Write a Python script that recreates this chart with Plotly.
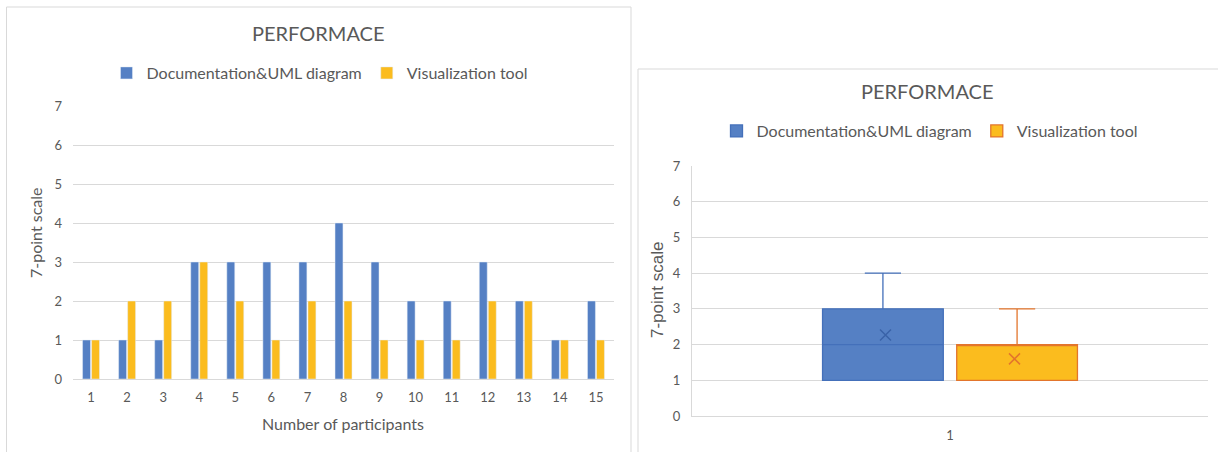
import numpy as np
import plotly.graph_objects as go

participants = [str(i) for i in range(1, 16)]
doc_uml = [1, 1, 1, 3, 3, 3, 3, 4, 3, 2, 2, 3, 2, 1, 2]
vis_tool = [1, 2, 2, 3, 2, 1, 2, 2, 1, 1, 1, 2, 2, 1, 1]
series_names = ["Documentation&UML diagram", "Visualization tool"]
box_category = "1"
y_ticks = [0, 1, 2, 3, 4, 5, 6, 7]
title_text = "PERFORMACE"
x_title = "Number of participants"
y_title = "7-point scale"

W, H = 1218, 452
BLUE = "#5580C4"
GOLD = "#FBBC1E"
BLUE_LINE = "#4470BA"
ORANGE_LINE = "#E3752C"
GREY = "#595959"
GRID = "#D9D9D9"
FONT = "Lato"

def px(x):
    return x / W

def py(y):
    return 1 - y / H

fig = go.Figure()

# Left: grouped bars
fig.add_trace(go.Bar(x=participants, y=doc_uml, name=series_names[0], marker_color=BLUE,
                     xaxis="x", yaxis="y", legend="legend"))
fig.add_trace(go.Bar(x=participants, y=vis_tool, name=series_names[1], marker_color=GOLD,
                     xaxis="x", yaxis="y", legend="legend"))

# Right: box plots
fig.add_trace(go.Box(y=doc_uml, x=[box_category] * len(doc_uml), name=series_names[0],
                     fillcolor=BLUE, line=dict(color=BLUE_LINE, width=1.3),
                     boxpoints=False, quartilemethod="exclusive", whiskerwidth=0.3,
                     xaxis="x2", yaxis="y2", legend="legend2", offsetgroup="a"))
fig.add_trace(go.Box(y=vis_tool, x=[box_category] * len(vis_tool), name=series_names[1],
                     fillcolor=GOLD, line=dict(color=ORANGE_LINE, width=1.3),
                     boxpoints=False, quartilemethod="exclusive", whiskerwidth=0.3,
                     xaxis="x2", yaxis="y2", legend="legend2", offsetgroup="b"))

# Mean markers (x)
fig.add_trace(go.Scatter(x=[box_category], y=[float(np.mean(doc_uml))], mode="markers",
                         marker=dict(symbol="x-thin", size=11, line=dict(color="#3A62A8", width=1.5)),
                         xaxis="x2", yaxis="y2", showlegend=False, offsetgroup="a"))
fig.add_trace(go.Scatter(x=[box_category], y=[float(np.mean(vis_tool))], mode="markers",
                         marker=dict(symbol="x-thin", size=11, line=dict(color=ORANGE_LINE, width=1.5)),
                         xaxis="x2", yaxis="y2", showlegend=False, offsetgroup="b"))

axis_common = dict(showgrid=False, zeroline=False, fixedrange=True, automargin=False,
                   tickfont=dict(family=FONT, size=13, color=GREY), ticks="")

fig.update_layout(
    width=W, height=H,
    margin=dict(l=0, r=0, t=0, b=0, autoexpand=False),
    paper_bgcolor="white", plot_bgcolor="white",
    barmode="group", bargap=0.5, bargroupgap=0.12,
    boxmode="group", boxgap=0.48, boxgroupgap=0.1,
    scattermode="group",
    font=dict(family=FONT, color=GREY),
    xaxis=dict(domain=[px(73), px(614)], anchor="y", type="category",
               showline=True, linecolor=GRID, ticklabelstandoff=6, **axis_common),
    yaxis=dict(domain=[py(379), py(106)], anchor="x", range=[0, 7], tickvals=y_ticks,
               showline=False, ticklabelstandoff=10,
               **{**axis_common, "showgrid": True}, gridcolor=GRID),
    xaxis2=dict(domain=[px(692), px(1208)], anchor="y2", type="category",
                showline=True, linecolor=GRID, ticklabelstandoff=7, **axis_common),
    yaxis2=dict(domain=[py(416), py(166)], anchor="x2", range=[0, 7], tickvals=y_ticks,
                showline=True, linecolor=GRID, ticklabelstandoff=8,
                **{**axis_common, "showgrid": True}, gridcolor=GRID),
    legend=dict(orientation="h", x=px(320), y=py(73), xanchor="center", yanchor="middle",
                font=dict(family=FONT, size=16, color=GREY), itemwidth=30,
                bgcolor="rgba(0,0,0,0)", traceorder="normal"),
    legend2=dict(orientation="h", x=px(930), y=py(131), xanchor="center", yanchor="middle",
                 font=dict(family=FONT, size=16, color=GREY), itemwidth=30,
                 bgcolor="rgba(0,0,0,0)", traceorder="normal"),
    showlegend=True,
)

ann = [
    dict(text=title_text, x=px(318), y=py(33), size=20),
    dict(text=title_text, x=px(927), y=py(91), size=20),
    dict(text=x_title, x=px(343), y=py(423), size=16),
]
annotations = [dict(text=a["text"], x=a["x"], y=a["y"], xref="paper", yref="paper",
                    showarrow=False, xanchor="center", yanchor="middle",
                    font=dict(family=FONT, size=a["size"], color=GREY)) for a in ann]
annotations.append(dict(text=y_title, x=px(35), y=py(233), xref="paper", yref="paper",
                        showarrow=False, textangle=-90, xanchor="center", yanchor="middle",
                        font=dict(family=FONT, size=16, color=GREY)))
annotations.append(dict(text=y_title, x=px(657), y=py(290), xref="paper", yref="paper",
                        showarrow=False, textangle=-90, xanchor="center", yanchor="middle",
                        font=dict(family="Liberation Sans", size=17, color=GREY)))
fig.update_layout(annotations=annotations)

fig.update_layout(shapes=[
    dict(type="rect", xref="paper", yref="paper", x0=px(6.5), x1=px(631), y0=py(470), y1=py(7),
         line=dict(color=GRID, width=1), fillcolor="rgba(0,0,0,0)", layer="below"),
    dict(type="rect", xref="paper", yref="paper", x0=px(638), x1=px(1240), y0=py(470), y1=py(69),
         line=dict(color=GRID, width=1), fillcolor="rgba(0,0,0,0)", layer="below"),
])

fig.write_html("out.html")
